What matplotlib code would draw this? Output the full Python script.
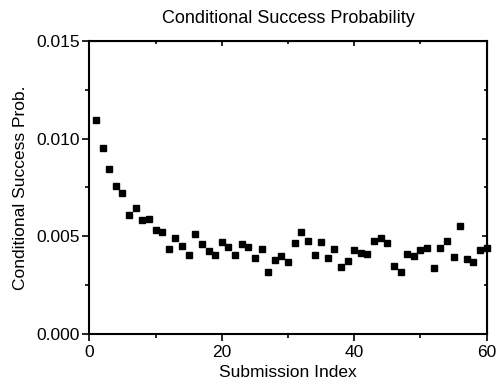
import matplotlib.pyplot as plt
import numpy as np

plt.rcParams['font.family'] = ['Liberation Sans', 'DejaVu Sans']

# submission index 1..60 and conditional success probability
index = np.arange(1, 61)
prob = [0.01094, 0.00953, 0.00844, 0.00756, 0.00722, 0.00610, 0.00646, 0.00583,
        0.00587, 0.00529, 0.00521, 0.00434, 0.00488, 0.00450, 0.00404, 0.00511,
        0.00458, 0.00426, 0.00404, 0.00472, 0.00446, 0.00402, 0.00458, 0.00446,
        0.00387, 0.00434, 0.00314, 0.00378, 0.00398, 0.00368, 0.00463, 0.00519,
        0.00475, 0.00404, 0.00472, 0.00390, 0.00432, 0.00343, 0.00370, 0.00431,
        0.00412, 0.00409, 0.00475, 0.00488, 0.00465, 0.00346, 0.00315, 0.00409,
        0.00397, 0.00427, 0.00441, 0.00339, 0.00441, 0.00477, 0.00392, 0.00553,
        0.00385, 0.00366, 0.00429, 0.00439]

fig = plt.figure(figsize=(4.97, 3.85), dpi=100)
ax = fig.add_axes([0.1797, 0.1333, 0.7996, 0.7602])
ax.plot(index, prob, 's', color='black', markersize=4.5, clip_on=False, zorder=3)

ax.set_xlim(0, 60)
ax.set_ylim(0, 0.015)
ax.set_xticks([0, 20, 40, 60])
ax.set_xticks([10, 30, 50], minor=True)
ax.set_yticks([0, 0.005, 0.010, 0.015])
ax.set_yticks([0.0025, 0.0075, 0.0125], minor=True)
ax.set_yticklabels(['0.000', '0.005', '0.010', '0.015'])

for s in ax.spines.values():
    s.set_linewidth(1.5)
ax.tick_params(which='both', direction='out', labelsize=12.5, width=1.2,
               top=False, right=False, pad=2)
ax.tick_params(axis='x', pad=3)
ax.tick_params(which='major', length=5)
ax.tick_params(which='minor', length=3)

# inward ticks on the mirrored top/right axes
axt = ax.secondary_xaxis('top')
axt.set_xticks([0, 20, 40, 60], labels=[])
axt.set_xticks([10, 30, 50], minor=True)
axt.tick_params(which='both', direction='in', width=1.2)
axt.tick_params(which='major', length=3.5)
axt.tick_params(which='minor', length=2)
axr = ax.secondary_yaxis('right')
axr.set_yticks([0, 0.005, 0.010, 0.015], labels=[])
axr.set_yticks([0.0025, 0.0075, 0.0125], minor=True)
axr.tick_params(which='both', direction='in', width=1.2)
axr.tick_params(which='major', length=3.5)
axr.tick_params(which='minor', length=2)

ax.set_xlabel('Submission Index', fontsize=12.5, labelpad=4)
ax.set_ylabel('Conditional Success Prob.', fontsize=12.5, labelpad=6)
ax.set_title('Conditional Success Probability', fontsize=13, pad=13)

fig.savefig('out.png', dpi=100)
